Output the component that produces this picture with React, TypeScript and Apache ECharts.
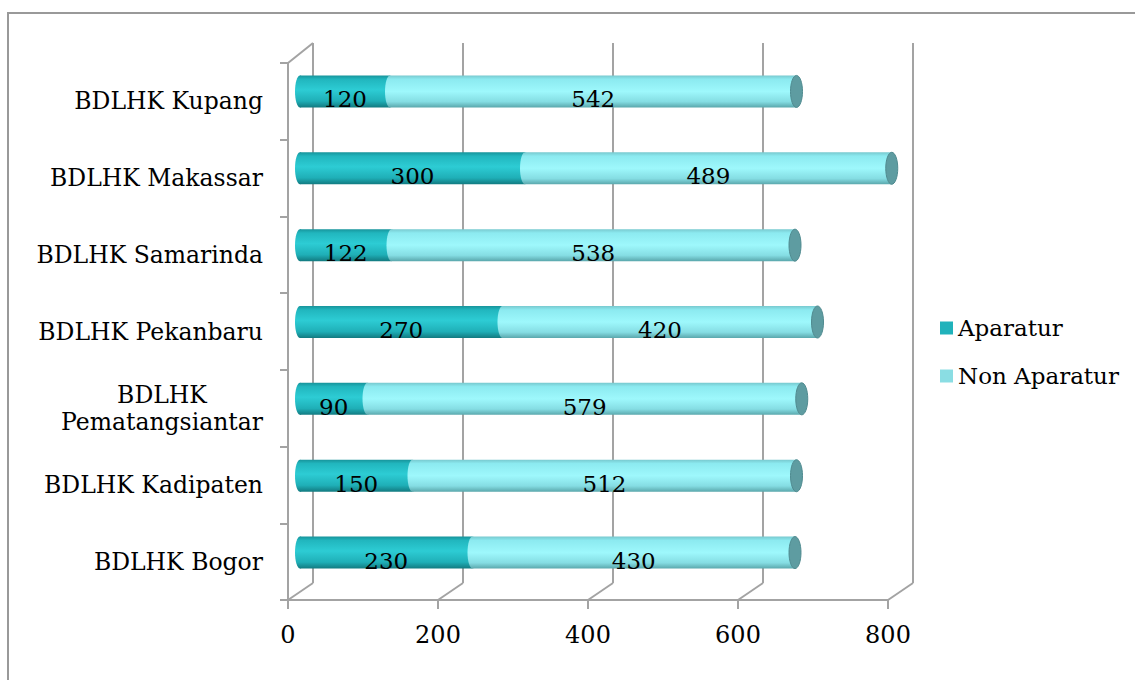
import React, { useEffect, useRef } from "react";
import * as echarts from "echarts";

const categories = [
  "BDLHK Bogor",
  "BDLHK Kadipaten",
  "BDLHK\nPematangsiantar",
  "BDLHK Pekanbaru",
  "BDLHK Samarinda",
  "BDLHK Makassar",
  "BDLHK Kupang",
];
const aparatur = [230, 150, 90, 270, 122, 300, 120];
const nonAparatur = [430, 512, 579, 420, 538, 489, 542];
const seriesNames = ["Aparatur", "Non Aparatur"];
const axisMin = 0;
const axisMax = 800;
const axisStep = 200;

const FONT = '"DejaVu Serif", serif';
const GRID = "#a3a3a3";
const CAT_FS = 23.5;

const tealGrad = () =>
  new echarts.graphic.LinearGradient(0, 0, 0, 1, [
    { offset: 0, color: "#17949b" },
    { offset: 0.12, color: "#21b6be" },
    { offset: 0.45, color: "#2dccd4" },
    { offset: 0.8, color: "#1fafb7" },
    { offset: 1, color: "#127a80" },
  ]);
const lightGrad = () =>
  new echarts.graphic.LinearGradient(0, 0, 0, 1, [
    { offset: 0, color: "#78c9cf" },
    { offset: 0.12, color: "#8ceaf0" },
    { offset: 0.5, color: "#9ef8fc" },
    { offset: 0.82, color: "#85dde3" },
    { offset: 1, color: "#5aa7ac" },
  ]);

export default function App() {
  const ref = useRef<HTMLDivElement>(null);
  useEffect(() => {
    document.body.style.margin = "0";
    if (!ref.current) return;
    const chart = echarts.init(ref.current, null, { renderer: "svg" });

    const cv = document.createElement("canvas").getContext("2d")!;
    cv.font = CAT_FS + 'px "DejaVu Serif"';
    const longW = Math.ceil(cv.measureText("Pematangsiantar").width);

    const lineStyle = { color: GRID, width: 2 };
    const bandH = 32;

    const diagonals: any[] = [];
    for (let v = axisMin; v <= axisMax; v += axisStep) {
      const fx = 288 + (v / axisMax) * 600;
      diagonals.push({
        type: "line",
        shape: { x1: fx, y1: 600, x2: fx + 25, y2: 583 },
        style: { stroke: GRID, lineWidth: 2 },
        z: 1,
      });
    }
    diagonals.push({
      type: "line",
      shape: { x1: 288, y1: 63, x2: 313, y2: 43 },
      style: { stroke: GRID, lineWidth: 2 },
      z: 1,
    });

    const option: any = {
      animation: false,
      graphic: [
        {
          type: "rect",
          shape: { x: 8, y: 13, width: 1200, height: 720 },
          style: { fill: "none", stroke: "#999", lineWidth: 2 },
          silent: true,
          z: 0,
        },
        ...diagonals,
      ],
      legend: {
        orient: "vertical",
        left: 935,
        top: 311,
        itemWidth: 13,
        itemHeight: 13,
        itemGap: 24,
        icon: "rect",
        textStyle: { fontFamily: FONT, fontSize: 23, color: "#000", lineHeight: 24 },
        data: [
          { name: seriesNames[0], itemStyle: { color: "#20b2bb" } },
          { name: seriesNames[1], itemStyle: { color: "#8adde3" } },
        ],
      },
      grid: [
        { left: 300, top: 53, width: 600, height: 538 },
        { left: 288, top: 63, width: 600, height: 537 },
        { left: 313, top: 43, width: 600, height: 540 },
      ],
      xAxis: [
        { gridIndex: 0, type: "value", min: axisMin, max: axisMax, interval: axisStep, show: false },
        {
          gridIndex: 1,
          type: "value",
          min: axisMin,
          max: axisMax,
          interval: axisStep,
          axisLine: { show: true, lineStyle },
          axisTick: { show: true, length: 9, lineStyle },
          axisLabel: { margin: 23, fontFamily: FONT, fontSize: 24, color: "#000" },
          splitLine: { show: false },
        },
        {
          gridIndex: 2,
          type: "value",
          min: axisMin,
          max: axisMax,
          interval: axisStep,
          axisLine: { show: false },
          axisTick: { show: false },
          axisLabel: { show: false },
          splitLine: { show: true, lineStyle },
        },
      ],
      yAxis: [
        { gridIndex: 0, type: "category", data: categories, show: false },
        {
          gridIndex: 1,
          type: "category",
          data: categories,
          axisLine: { show: true, lineStyle },
          axisTick: { show: true, length: 8, lineStyle },
          axisLabel: {
            margin: 25,
            fontFamily: FONT,
            fontSize: CAT_FS,
            color: "#000",
            lineHeight: 27,
            formatter: (v: string) =>
              v.includes("\n")
                ? v
                    .split("\n")
                    .map((s) => "{c|" + s + "}")
                    .join("\n")
                : v,
            rich: {
              c: {
                width: longW,
                align: "center",
                fontFamily: FONT,
                fontSize: CAT_FS,
                color: "#000",
                lineHeight: 27,
              },
            },
          },
        },
        { gridIndex: 2, type: "category", data: categories, show: false },
      ],
      series: [
        {
          name: seriesNames[0],
          type: "bar",
          stack: "total",
          xAxisIndex: 0,
          yAxisIndex: 0,
          barWidth: bandH,
          data: aparatur,
          itemStyle: { color: tealGrad() },
          label: {
            show: true,
            position: "inside",
            offset: [0, 8],
            fontFamily: FONT,
            fontSize: 23,
            color: "#000",
          },
          z: 2,
        },
        {
          name: seriesNames[1],
          type: "bar",
          stack: "total",
          xAxisIndex: 0,
          yAxisIndex: 0,
          barWidth: bandH,
          data: nonAparatur,
          itemStyle: { color: lightGrad() },
          label: {
            show: true,
            position: "inside",
            offset: [0, 8],
            fontFamily: FONT,
            fontSize: 23,
            color: "#000",
          },
          z: 2,
        },
        {
          type: "custom",
          xAxisIndex: 0,
          yAxisIndex: 0,
          silent: true,
          z: 3,
          encode: { x: [1, 2], y: 0 },
          data: categories.map((_, i) => [i, aparatur[i], aparatur[i] + nonAparatur[i]]),
          renderItem: (_params: any, api: any) => {
            const y = api.value(0);
            const p0 = api.coord([0, y]);
            const pa = api.coord([api.value(1), y]);
            const pt = api.coord([api.value(2), y]);
            const ry = bandH / 2;
            return {
              type: "group",
              children: [
                { type: "ellipse", shape: { cx: p0[0], cy: p0[1], rx: 5, ry }, style: { fill: tealGrad() } },
                { type: "ellipse", shape: { cx: pa[0], cy: pa[1], rx: 5, ry }, style: { fill: lightGrad() } },
                {
                  type: "ellipse",
                  shape: { cx: pt[0], cy: pt[1], rx: 6, ry },
                  style: { fill: "#5e9ca1", stroke: "#508b90", lineWidth: 1 },
                },
              ],
            };
          },
        },
      ],
    };
    chart.setOption(option);
    return () => chart.dispose();
  }, []);
  return <div ref={ref} style={{ width: 1135, height: 680 }} />;
}
